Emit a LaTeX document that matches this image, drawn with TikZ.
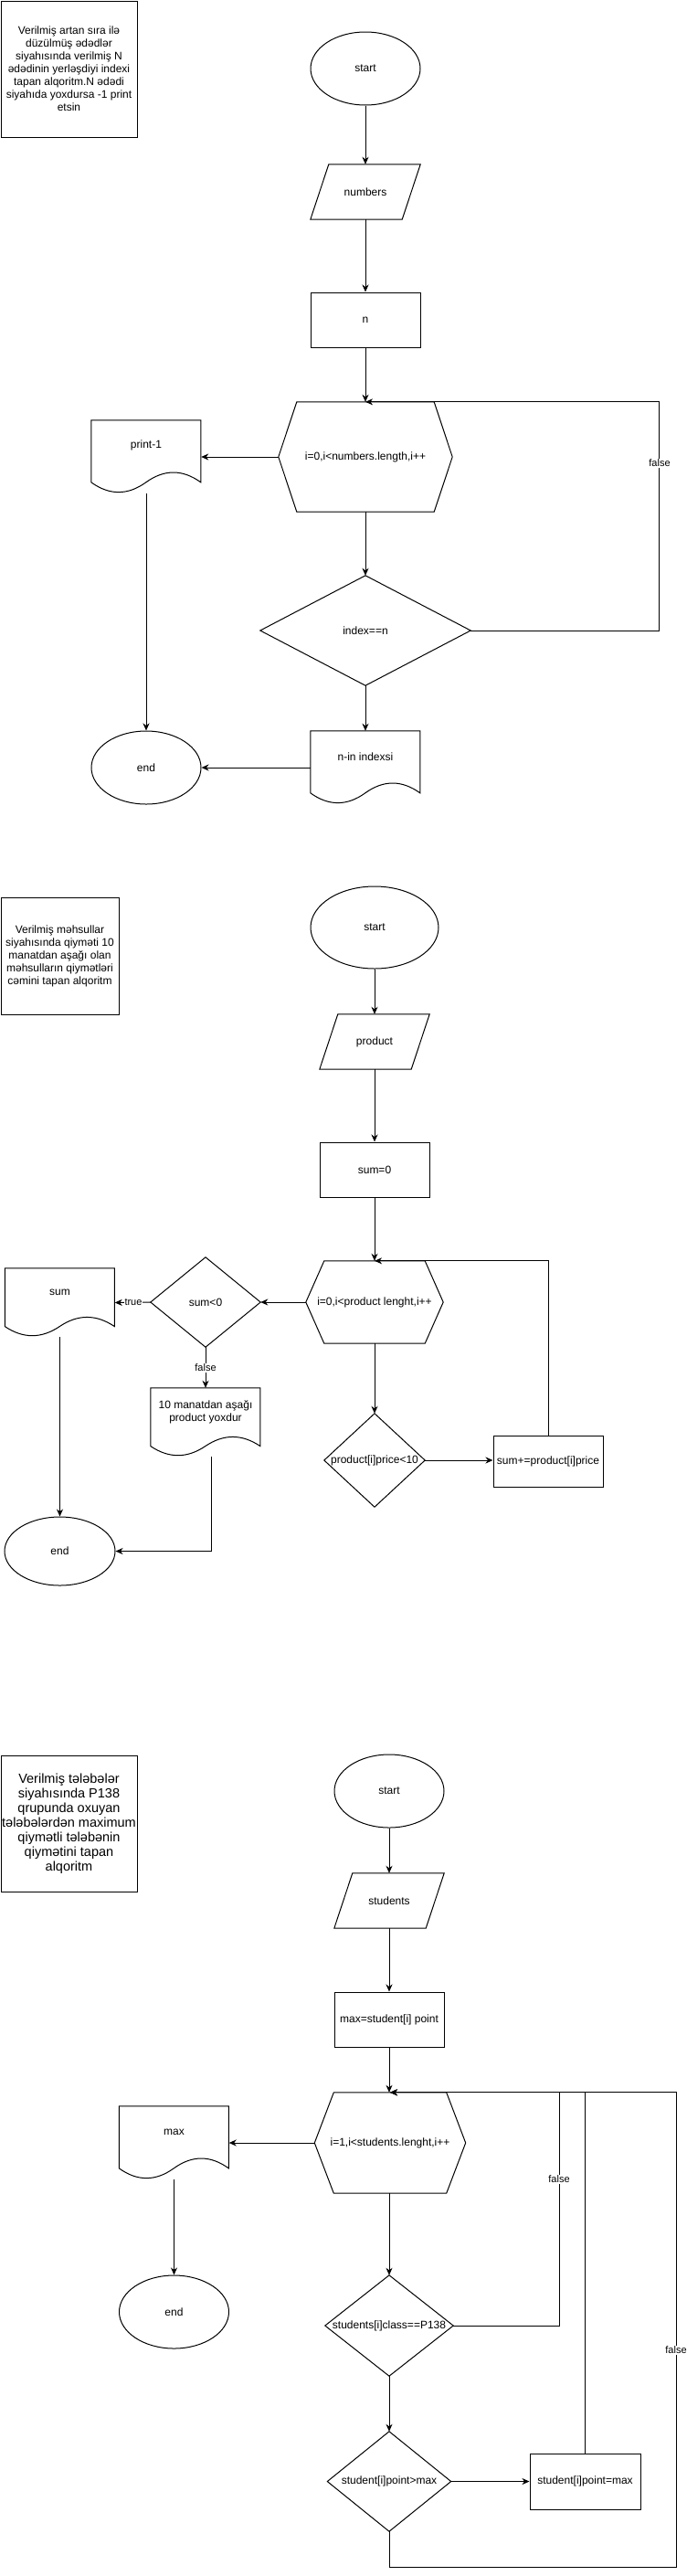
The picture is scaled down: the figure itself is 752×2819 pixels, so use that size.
\documentclass[tikz,border=0pt]{standalone}
\usepackage{fontspec}
\setmainfont{Liberation Sans}
\usetikzlibrary{shapes.geometric,arrows.meta,calc}

\tikzset{
  ln/.style={line width=1pt, draw=black},
  arr/.style={ln, -{Stealth[length=8pt,width=7pt,inset=2.5pt]}},
  txt/.style={font=\fontsize{12}{14}\selectfont, align=center, inner sep=0pt, text=black},
  frm/.style n args={2}{txt, minimum width=#1pt, minimum height=#2pt},
  elbl/.style={font=\fontsize{11}{13}\selectfont, fill=white, inner sep=1pt, text=black},
  boxtxt/.style={font=\fontsize{12}{13.4}\selectfont},
  bigtxt/.style={font=\fontsize{14.5}{16}\selectfont},
}

\newcommand{\myRect}[6]{\node[frm={#4}{#5}, ln] (#1) at (#2,#3) {#6};}
\newcommand{\myEll}[6]{\node[frm={#4}{#5}, ln, ellipse] (#1) at (#2,#3) {#6};}
\newcommand{\myDia}[6]{\node[frm={#4}{#5}] (#1) at (#2,#3) {#6};
  \draw[ln] (#1.north) -- (#1.east) -- (#1.south) -- (#1.west) -- cycle;}
\newcommand{\myHex}[7]{\node[frm={#4}{#5}] (#1) at (#2,#3) {#7};
  \draw[ln] ($(#1.north west)+(#6,0)$) -- ($(#1.north east)+(-#6,0)$) -- (#1.east)
    -- ($(#1.south east)+(-#6,0)$) -- ($(#1.south west)+(#6,0)$) -- (#1.west) -- cycle;}
\newcommand{\myPara}[6]{\node[frm={#4}{#5}] (#1) at (#2,#3) {#6};
  \draw[ln] ($(#1.north west)+(20,0)$) -- (#1.north east) -- ($(#1.south east)+(-20,0)$)
    -- (#1.south west) -- cycle;}
\newcommand{\myDoc}[6]{%
  \node[frm={#4}{#5}] (#1) at (#2,#3) {};
  \node[txt] (#1-t) at ($(#1.north)+(0,{0.35*#5})$) {#6};
  \begin{scope}[shift={(#1.north west)}]
    \draw[ln] (0,0) -- (#4,0) -- (#4,{0.85*#5})
      .. controls ({#4*5/6},{0.67*#5}) and ({#4*2/3},{0.67*#5}) .. ({#4/2},{0.85*#5})
      .. controls ({#4/3},{1.03*#5}) and ({#4/6},{1.03*#5}) .. (0,{0.85*#5}) -- cycle;
  \end{scope}}

\begin{document}
\begin{tikzpicture}[x=1pt,y=-1pt]
\useasboundingbox (0,0) rectangle (752,2819);

% ---------------- Diagram 1 ----------------
\myRect{t1}{75.5}{75.5}{149}{149}{\fontsize{12}{13.4}\selectfont Verilmiş artan sıra ilə\\düzülmüş ədədlər\\siyahısında verilmiş N\\ədədinin yerləşdiyi indexi\\tapan alqoritm.N ədədi\\siyahıda yoxdursa -1 print\\etsin}
\myEll{s1}{400}{75}{120}{80}{start}
\myPara{num}{400}{210}{120}{60}{numbers}
\myRect{n}{400}{350}{120}{60}{n}
\myHex{h1}{400}{500}{190}{120}{20}{i=0,i<numbers.length,i++}
\myDoc{p1}{160}{500}{120}{80}{print-1}
\myDia{d1}{400}{690}{230}{120}{index==n}
\myDoc{ni}{400}{840}{120}{80}{n-in indexsi}
\myEll{e1}{160}{840}{120}{80}{end}

\draw[arr] (s1.south) -- (num.north);
\draw[arr] (num.south) -- (n.north);
\draw[arr] (n.south) -- (h1.north);
\draw[arr] (h1.west) -- (p1.east);
\draw[arr] (h1.south) -- (d1.north);
\draw[arr] (d1.east) -- ++(206,0) |- (h1.north);
\node[elbl] (f1) at (722,507) {false};
\draw[arr] (d1.south) -- (ni.north);
\draw[arr] (ni.west) -- (e1.east);
\draw[arr] (p1.south) -- (e1.north);

% ---------------- Diagram 2 ----------------
\myRect{t2}{65.5}{1046}{129}{128}{\fontsize{12}{13.4}\selectfont Verilmiş məhsullar\\siyahısında qiyməti 10\\manatdan aşağı olan\\məhsulların qiymətləri\\cəmini tapan alqoritm}
\myEll{s2}{410}{1015}{140}{90}{start}
\myPara{prod}{410}{1140}{120}{60}{product}
\myRect{sum0}{410}{1280}{120}{60}{sum=0}
\myHex{h2}{410}{1425}{150}{90}{20}{i=0,i<product lenght,i++}
\myDia{d2}{225}{1425}{120}{98}{sum<0}
\myDoc{sd}{65.5}{1425.5}{120}{75}{sum}
\myDoc{md}{225}{1556.5}{120}{75}{10 manatdan aşağı\\product yoxdur}
\myEll{e2}{65.5}{1697.5}{121}{75}{end}
\myDia{d3}{410}{1598}{110}{102}{product[i]price<10}
\myRect{sp}{600}{1599}{120}{56}{sum+=product[i]price}

\draw[arr] (s2.south) -- (prod.north);
\draw[arr] (prod.south) -- (sum0.north);
\draw[arr] (sum0.south) -- (h2.north);
\draw[arr] (h2.west) -- (d2.east);
\draw[arr] (d2.west) -- (sd.east);
\node[elbl] (tr) at (146,1425) {true};
\draw[arr] (d2.south) -- (md.north);
\node[elbl] (f2) at (225,1497) {false};
\coordinate (mdb) at ($(md.south)+(6,0)$);
\draw[arr] (mdb) |- (e2.east);
\draw[arr] (sd.south) -- (e2.north);
\draw[arr] (h2.south) -- (d3.north);
\draw[arr] (d3.east) -- (d3.east -| sp.west);
\draw[arr] (sp.north) |- (h2.north);

% ---------------- Diagram 3 ----------------
\node[frm={149}{149}, ln, bigtxt] (t3) at (75.5,1995.5) {Verilmiş tələbələr\\siyahısında P138\\qrupunda oxuyan\\tələbələrdən maximum\\qiymətli tələbənin\\qiymətini tapan\\alqoritm};
\myEll{s3}{426}{1960}{120}{80}{start}
\myPara{st}{426}{2080}{120}{60}{students}
\myRect{mx}{426}{2210}{120}{60}{max=student[i] point}
\myHex{h3}{427}{2345}{165}{110}{21}{i=1,i<students.lenght,i++}
\myDoc{pm}{190.5}{2345}{120}{80}{max}
\myEll{e3}{190.5}{2530}{120}{80}{end}
\myDia{d4}{426}{2545}{140}{110}{students[i]class==P138}
\myDia{d5}{426}{2715.5}{135}{109}{student[i]point>max}
\myRect{sm}{640.5}{2715.5}{121}{61}{student[i]point=max}

\draw[arr] (s3.south) -- (st.north);
\draw[arr] (st.south) -- (mx.north);
\draw[arr] (mx.south) -- (mx.south |- h3.north);
\draw[arr] (h3.west) -- (pm.east);
\draw[arr] (pm.south) -- (e3.north);
\draw[arr] (h3.south -| d4.north) -- (d4.north);
\draw[arr] (d4.east) -- ++(116,0) |- (h3.north);
\node[elbl] (f3) at (612,2385) {false};
\draw[arr] (d4.south) -- (d5.north);
\draw[arr] (d5.east) -- (sm.west);
\draw[arr] (sm.north) |- (h3.north);
\draw[arr] (d5.south) -- ++(0,39.5) -- ++(314,0) |- (h3.north);
\node[elbl] (f4) at (740,2572) {false};

\end{tikzpicture}
\end{document}
